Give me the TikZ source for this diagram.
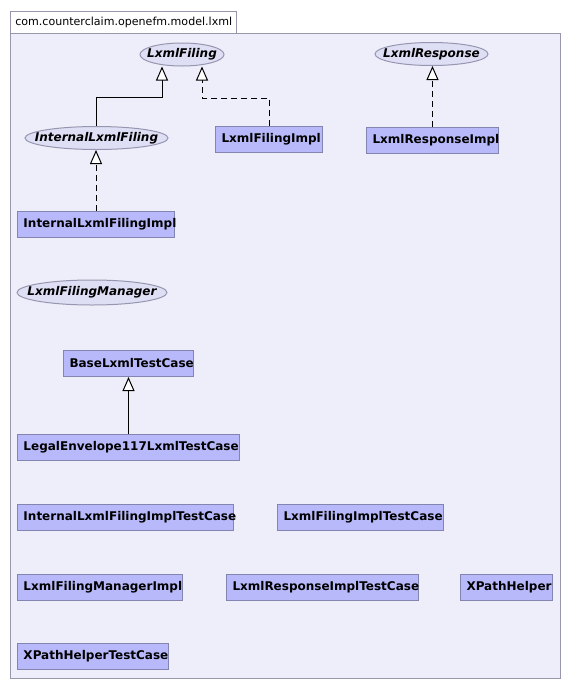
\documentclass[tikz,border=0pt]{standalone}
\usepackage{fontspec}
\setmainfont{DejaVu Sans}
\usetikzlibrary{arrows.meta,shapes.geometric}

\definecolor{pkgfill}{RGB}{238,238,250}
\definecolor{pkgline}{RGB}{150,150,172}
\definecolor{clsfill}{RGB}{184,185,250}
\definecolor{clsline}{RGB}{132,132,176}
\definecolor{ifcfill}{RGB}{222,222,244}
\definecolor{ifcline}{RGB}{150,150,176}

\tikzset{
  cls/.style={rectangle, draw=clsline, fill=clsfill, line width=0.75pt,
    anchor=north west, minimum height=19.5pt, inner xsep=4.5pt, inner ysep=0pt,
    align=left, font=\fontsize{9}{10}\selectfont\bfseries},
  ifc/.style={ellipse, draw=ifcline, fill=ifcfill, line width=0.75pt,
    inner sep=-40pt, minimum height=17.25pt,
    font=\fontsize{9}{10}\selectfont\bfseries\itshape},
  gen/.style={line width=0.75pt, -{Triangle[fill=white,length=10.5pt,width=9pt]}},
  real/.style={gen, dash pattern=on 4.5pt off 3pt}
}

\begin{document}
\begin{tikzpicture}[x=0.75pt, y=-0.75pt]
\useasboundingbox (0,0) rectangle (569,690);
% package
\draw[pkgline, fill=pkgfill, line width=0.75pt] (10,33) rectangle (560,678);
\draw[pkgline, fill=white, line width=0.75pt] (10,11) rectangle (236,33);
\node[anchor=west, inner sep=0pt, font=\fontsize{8.3}{10}\selectfont] (pkg) at (15,22) {com.counterclaim.openefm.model.lxml};

% interfaces
\node[ifc, minimum width=63pt] (lf) at (182,54.5) {LxmlFiling};
\node[ifc, minimum width=84.75pt] (lr) at (431.5,54) {LxmlResponse};
\node[ifc, minimum width=107.25pt] (ilf) at (96.5,138) {InternalLxmlFiling};
\node[ifc, minimum width=112.5pt, minimum height=18.75pt] (lfm) at (92,292.5) {LxmlFilingManager};

% classes
\node[cls, text width=71.25pt] (lfi) at (215,126) {LxmlFilingImpl};
\node[cls, text width=90pt] (lri) at (366,127) {LxmlResponseImpl};
\node[cls, text width=108.75pt] (ilfi) at (17,211) {InternalLxmlFilingImpl};
\node[cls, text width=88.5pt] (base) at (63,350) {BaseLxmlTestCase};
\node[cls, text width=157.5pt] (legal) at (17,434) {LegalEnvelope117LxmlTestCase};
\node[cls, text width=153pt] (ilfit) at (17,504) {InternalLxmlFilingImplTestCase};
\node[cls, text width=115.5pt] (lfit) at (277,504) {LxmlFilingImplTestCase};
\node[cls, text width=114.75pt] (lfmi) at (17,574) {LxmlFilingManagerImpl};
\node[cls, text width=135pt] (lrit) at (226,574) {LxmlResponseImplTestCase};
\node[cls, text width=60pt] (xph) at (460,574) {XPathHelper};
\node[cls, text width=104.25pt] (xpht) at (17,643) {XPathHelperTestCase};

% relations
\draw[gen] (ilf.north) -- ++(0,-29) -| ([xshift=-15pt]lf.south);
\draw[real] (lfi.north) -- ++(0,-28) -| ([xshift=15pt]lf.south);
\draw[real] (lri.north) -- (lri.north |- lr.south);
\draw[real] (ilfi.north) -- (ilfi.north |- ilf.south);
\draw[gen] (legal.north -| base.south) -- (base.south);
\end{tikzpicture}
\end{document}
